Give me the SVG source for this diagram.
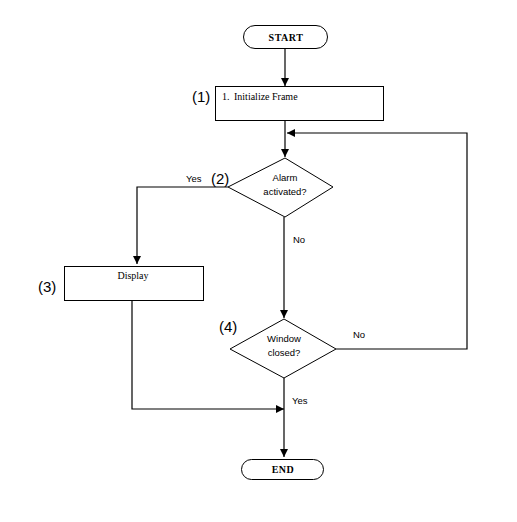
<svg xmlns="http://www.w3.org/2000/svg" width="517" height="522" viewBox="0 0 517 522">
<defs>
<marker id="ah" viewBox="0 0 10 10" refX="10" refY="5" markerWidth="8" markerHeight="9" markerUnits="userSpaceOnUse" orient="auto">
<path d="M0,0 L10,5 L0,10 Z" fill="#000"/>
</marker>
<style>
.s{fill:#fff;stroke:#000;stroke-width:1}
.c{fill:none;stroke:#000;stroke-width:1.2}
.t{font-family:"Liberation Serif",serif;font-size:10px;fill:#000}
.tb{font-family:"Liberation Serif",serif;font-size:10px;font-weight:bold;fill:#000;letter-spacing:0.5px}
.ts{font-family:"Liberation Sans",sans-serif;font-size:9.5px;fill:#000}
.n{font-family:"Liberation Sans",sans-serif;font-size:15px;fill:#000}
</style>
</defs>
<rect width="517" height="522" fill="#fff"/>
<g id="connectors">
<path class="c" d="M285,48 V86" marker-end="url(#ah)"/>
<path class="c" d="M285,120 V157" marker-end="url(#ah)"/>
<path class="c" d="M336,349 H467 V133 H287" marker-end="url(#ah)"/>
<path class="c" d="M228,187 H137 V264" marker-end="url(#ah)"/>
<path class="c" d="M284,217 V318" marker-end="url(#ah)"/>
<path class="c" d="M132,301 V409 H284" marker-end="url(#ah)"/>
<path class="c" d="M284,378 V457" marker-end="url(#ah)"/>
<text class="ts" x="186" y="182">Yes</text>
<text class="ts" x="293" y="243">No</text>
<text class="ts" x="353" y="338">No</text>
<text class="ts" x="292" y="404">Yes</text>
</g>
<g id="start">
<rect class="s" x="243.5" y="25.5" width="84" height="23" rx="11.5"/>
<text class="tb" x="286" y="40.5" text-anchor="middle">START</text>
</g>
<g id="init">
<rect class="s" x="215.5" y="86.5" width="168" height="34"/>
<text class="t" x="222" y="100">1.</text>
<text class="t" x="234" y="100">Initialize Frame</text>
<text class="n" x="192" y="102">(1)</text>
</g>
<g id="alarm">
<polygon class="s" points="285,158 333,187 285,217 228,187"/>
<text class="ts" x="285" y="181" text-anchor="middle">Alarm</text>
<text class="ts" x="285" y="195" text-anchor="middle">activated?</text>
<text class="n" x="211" y="184">(2)</text>
</g>
<g id="display">
<rect class="s" x="64.5" y="266.5" width="139" height="34"/>
<text class="t" x="133" y="279" text-anchor="middle">Display</text>
<text class="n" x="38" y="292">(3)</text>
</g>
<g id="window">
<polygon class="s" points="284,319 336,349 284,378 230,349"/>
<text class="ts" x="284" y="342" text-anchor="middle">Window</text>
<text class="ts" x="284" y="356" text-anchor="middle">closed?</text>
<text class="n" x="219" y="332">(4)</text>
</g>
<g id="end">
<rect class="s" x="241.5" y="459.5" width="82" height="20" rx="10"/>
<text class="tb" x="283" y="473" text-anchor="middle">END</text>
</g>
</svg>
